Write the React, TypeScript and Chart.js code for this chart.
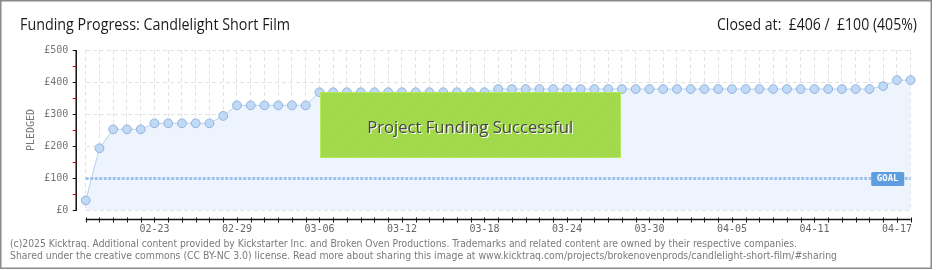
import React, { useEffect, useRef } from "react";
import { Chart, registerables } from "chart.js";

Chart.register(...registerables);

// ---- data ----
const DATES = [
  "02-18", "02-19", "02-20", "02-21", "02-22", "02-23", "02-24", "02-25", "02-26", "02-27",
  "02-28", "02-29", "03-01", "03-02", "03-03", "03-04", "03-05", "03-06", "03-07", "03-08",
  "03-09", "03-10", "03-11", "03-12", "03-13", "03-14", "03-15", "03-16", "03-17", "03-18",
  "03-19", "03-20", "03-21", "03-22", "03-23", "03-24", "03-25", "03-26", "03-27", "03-28",
  "03-29", "03-30", "03-31", "04-01", "04-02", "04-03", "04-04", "04-05", "04-06", "04-07",
  "04-08", "04-09", "04-10", "04-11", "04-12", "04-13", "04-14", "04-15", "04-16", "04-17",
  "04-18",
];

const PLEDGED = [
  30, 193, 252, 252, 252, 271, 271, 271, 271, 271,
  294, 327, 327, 327, 327, 327, 327, 368, 368, 368,
  368, 368, 368, 368, 368, 368, 368, 368, 368, 368,
  378, 378, 378, 378, 378, 378, 378, 378, 378, 378,
  378, 378, 378, 378, 378, 378, 378, 378, 378, 378,
  378, 378, 378, 378, 378, 378, 378, 378, 387, 406,
  406,
];

const X_TICK_LABELS = ["02-23", "02-29", "03-06", "03-12", "03-18", "03-24", "03-30", "04-05", "04-11", "04-17"];
const Y_TICK_LABELS = ["£0", "£100", "£200", "£300", "£400", "£500"];
const Y_TICK_VALUES = [0, 100, 200, 300, 400, 500];
const Y_MINOR_VALUES = [50, 150, 250, 350, 450];
const GOAL = 100;

const TITLE = "Funding Progress: Candlelight Short Film";
const CLOSED = "Closed at:  £406 /  £100 (405%)";
const BANNER = "Project Funding Successful";
const FOOTER = [
  "(c)2025 Kicktraq. Additional content provided by Kickstarter Inc. and Broken Oven Productions. Trademarks and related content are owned by their respective companies.",
  "Shared under the creative commons (CC BY-NC 3.0) license. Read more about sharing this image at www.kicktraq.com/projects/brokenovenprods/candlelight-short-film/#sharing",
];

const MONO = '"DejaVu Sans Mono", monospace';

const overlay = {
  id: "kicktraqOverlay",
  beforeDraw(chart: any) {
    const ctx = chart.ctx as CanvasRenderingContext2D;
    ctx.save();
    ctx.fillStyle = "#ffffff";
    ctx.fillRect(0, 0, chart.width, chart.height);
    ctx.restore();
  },
  afterDatasetsDraw(chart: any) {
    const ctx = chart.ctx as CanvasRenderingContext2D;
    const xs = chart.scales.x;
    const ys = chart.scales.y;
    const area = chart.chartArea;
    ctx.save();

    // goal line
    const gy = Math.round(ys.getPixelForValue(GOAL)) + 0.5;
    ctx.strokeStyle = "#a0c3eb";
    ctx.lineWidth = 3;
    ctx.setLineDash([3, 1.5]);
    ctx.beginPath();
    ctx.moveTo(area.left, gy);
    ctx.lineTo(area.right, gy);
    ctx.stroke();
    ctx.setLineDash([]);

    // goal label
    const gx1 = xs.getPixelForValue(DATES.length - 1) - 6.5;
    ctx.fillStyle = "#5d9de0";
    ctx.beginPath();
    ctx.roundRect(gx1 - 33, gy - 6.5, 33, 14, 1.5);
    ctx.fill();
    ctx.fillStyle = "#ffffff";
    ctx.font = "bold 9px " + MONO;
    ctx.textAlign = "center";
    ctx.textBaseline = "middle";
    ctx.fillText("GOAL", gx1 - 16.5, gy + 0.5);

    // success banner
    const bx = 320, by = 92, bw = 301, bh = 66;
    ctx.fillStyle = "#a5db4e";
    ctx.fillRect(bx, by, bw, bh);
    ctx.save();
    ctx.beginPath();
    ctx.rect(bx, by, bw, bh);
    ctx.clip();
    ctx.strokeStyle = "rgba(140,200,60,0.35)";
    ctx.lineWidth = 1;
    for (let k = -bh; k < bw + bh; k += 3) {
      ctx.beginPath();
      ctx.moveTo(bx + k, by + bh);
      ctx.lineTo(bx + k + bh, by);
      ctx.stroke();
    }
    ctx.restore();
    ctx.strokeStyle = "#b6ea5e";
    ctx.lineWidth = 1;
    ctx.strokeRect(bx + 0.5, by + 0.5, bw - 1, bh - 1);
    ctx.font = '17px "Open Sans", sans-serif';
    ctx.textAlign = "center";
    ctx.textBaseline = "alphabetic";
    ctx.fillStyle = "#ffffff";
    ctx.fillText(BANNER, bx + bw / 2 + 0.8, 133.5, 206);
    ctx.fillStyle = "#454545";
    ctx.fillText(BANNER, bx + bw / 2 - 0.3, 132.5, 206);
    ctx.restore();
  },
  afterDraw(chart: any) {
    const ctx = chart.ctx as CanvasRenderingContext2D;
    const xs = chart.scales.x;
    const ys = chart.scales.y;
    const area = chart.chartArea;
    ctx.save();

    // outer border
    ctx.strokeStyle = "#8a8a8a";
    ctx.lineWidth = 1.5;
    ctx.strokeRect(0.75, 0.75, 930.5, 267.5);

    // titles
    ctx.fillStyle = "#1a1a1a";
    ctx.textBaseline = "alphabetic";
    ctx.font = '17px "Open Sans", sans-serif';
    ctx.textAlign = "left";
    ctx.fillText(TITLE, 20, 30, 270);
    ctx.textAlign = "right";
    ctx.fillText(CLOSED, 917, 30, 200);

    // y axis
    const axX = area.left - 9.5;
    ctx.strokeStyle = "#111111";
    ctx.lineWidth = 1.5;
    ctx.beginPath();
    ctx.moveTo(axX, ys.getPixelForValue(500));
    ctx.lineTo(axX, ys.getPixelForValue(0) + 1);
    ctx.stroke();
    ctx.lineWidth = 1;
    Y_TICK_VALUES.forEach((v) => {
      const y = Math.round(ys.getPixelForValue(v)) + 0.5;
      ctx.strokeStyle = "#111111";
      ctx.beginPath();
      ctx.moveTo(axX - 3.5, y);
      ctx.lineTo(axX, y);
      ctx.stroke();
    });
    Y_MINOR_VALUES.forEach((v) => {
      const y = Math.round(ys.getPixelForValue(v)) + 0.5;
      ctx.strokeStyle = "#e00000";
      ctx.beginPath();
      ctx.moveTo(axX - 3.5, y);
      ctx.lineTo(axX, y);
      ctx.stroke();
    });
    ctx.fillStyle = "#777777";
    ctx.font = "10px " + MONO;
    ctx.textAlign = "right";
    ctx.textBaseline = "middle";
    Y_TICK_VALUES.forEach((v, i) => {
      ctx.fillText(Y_TICK_LABELS[i], axX - 8, ys.getPixelForValue(v));
    });

    // PLEDGED
    ctx.save();
    ctx.translate(31.5, (area.top + area.bottom) / 2);
    ctx.rotate(-Math.PI / 2);
    ctx.textAlign = "center";
    ctx.textBaseline = "middle";
    ctx.font = "10px " + MONO;
    ctx.fillStyle = "#777777";
    ctx.fillText("PLEDGED", 0, 0);
    ctx.restore();

    // x axis
    const axY = area.bottom + 9.5;
    ctx.strokeStyle = "#111111";
    ctx.lineWidth = 1.5;
    ctx.beginPath();
    ctx.moveTo(xs.getPixelForValue(0), axY);
    ctx.lineTo(xs.getPixelForValue(DATES.length - 1), axY);
    ctx.stroke();
    ctx.lineWidth = 1;
    DATES.forEach((_, i) => {
      const x = Math.round(xs.getPixelForValue(i)) + 0.5;
      ctx.beginPath();
      ctx.moveTo(x, axY - 2);
      ctx.lineTo(x, axY + 3);
      ctx.stroke();
    });
    ctx.fillStyle = "#666666";
    ctx.font = "10px " + MONO;
    ctx.textAlign = "center";
    ctx.textBaseline = "middle";
    X_TICK_LABELS.forEach((lab) => {
      const i = DATES.indexOf(lab);
      if (i >= 0) ctx.fillText(lab, xs.getPixelForValue(i), axY + 9.5);
    });

    // footer
    ctx.fillStyle = "#7a7a7a";
    ctx.textAlign = "left";
    ctx.textBaseline = "middle";
    ctx.font = '10.5px "DejaVu Sans Condensed", "DejaVu Sans", sans-serif';
    ctx.fillText(FOOTER[0], 10, 244, 787);
    ctx.fillText(FOOTER[1], 10, 256, 827);

    ctx.restore();
  },
};

export default function App() {
  const ref = useRef<HTMLCanvasElement | null>(null);
  useEffect(() => {
    document.body.style.margin = "0";
    const canvas = ref.current;
    if (!canvas) return;
    const chart = new Chart(canvas, {
      type: "line",
      data: {
        labels: DATES,
        datasets: [
          {
            data: PLEDGED,
            borderColor: "#b7d2f2",
            borderWidth: 1,
            backgroundColor: "#edf4fd",
            fill: "origin",
            tension: 0,
            clip: false,
            pointRadius: 4.4,
            pointBackgroundColor: "#c0d9f6",
            pointBorderColor: "#93b4dd",
            pointBorderWidth: 1,
          },
        ],
      },
      options: {
        responsive: false,
        animation: false,
        devicePixelRatio: 1,
        layout: { padding: { left: 85.7, right: 29.3, top: 50, bottom: 60 } },
        plugins: { legend: { display: false }, tooltip: { enabled: false }, title: { display: false } },
        scales: {
          x: {
            type: "category",
            offset: false,
            ticks: { display: false },
            grid: { color: "#e3e3e3", drawTicks: false, lineWidth: 1 },
            border: { display: false, dash: [4, 3] },
          },
          y: {
            min: 0,
            max: 500,
            ticks: { display: false, stepSize: 50 },
            grid: {
              drawTicks: false,
              lineWidth: 1,
              color: (c: any) => (c.tick && c.tick.value % 100 === 0 ? "#e3e3e3" : "rgba(0,0,0,0)"),
            },
            border: { display: false, dash: [4, 3] },
          },
        },
      },
      plugins: [overlay],
    } as any);
    return () => chart.destroy();
  }, []);
  return (
    <div style={{ position: "absolute", left: 0, top: 0, width: 940, height: 270 }}>
      <canvas ref={ref} width={940} height={270} style={{ width: 940, height: 270, display: "block" }} />
    </div>
  );
}
